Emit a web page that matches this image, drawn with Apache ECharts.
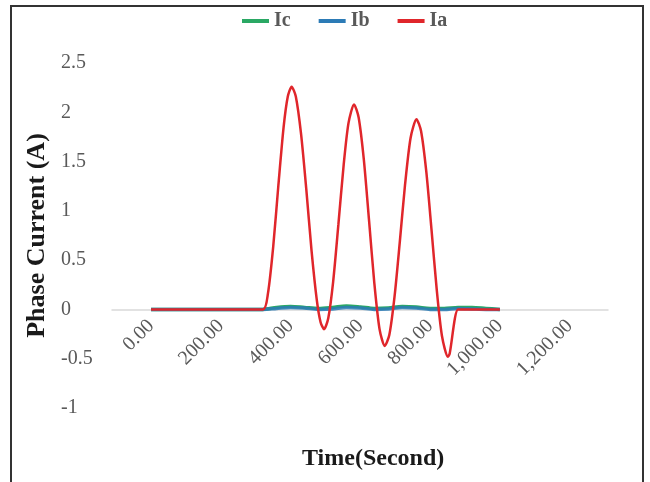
<!DOCTYPE html>
<html>
<head>
<meta charset="utf-8">
<script src="https://cdn.jsdelivr.net/npm/echarts@6/dist/echarts.min.js"></script>
<style>
html,body{margin:0;padding:0;background:#fff;}
#chart{width:650px;height:482px;}
</style>
</head>
<body>
<div id="chart"></div>
<script>
// Data
const xTickLabels = [0, 200, 400, 600, 800, 1000, 1200];
const yTicks = [-1, -0.5, 0, 0.5, 1, 1.5, 2, 2.5];

const iaTime = [0, 100, 200, 321, 335, 350, 365, 380, 392, 403, 415, 430, 445, 460, 475, 486, 496,
  508, 522, 537, 552, 566, 582, 595, 610, 625, 640, 655, 670, 683, 698, 713, 728, 744, 761,
  774, 789, 804, 819, 834, 851, 856, 880, 900, 950, 1000];
const iaVals = [0, 0, 0, 0, 0.16, 0.63, 1.26, 1.85, 2.16, 2.26, 2.16, 1.78, 1.22, 0.60, 0.10, -0.13, -0.20,
  -0.09, 0.28, 0.86, 1.46, 1.89, 2.08, 1.95, 1.52, 0.90, 0.27, -0.20, -0.37, -0.26, 0.13, 0.68, 1.26, 1.74, 1.93,
  1.81, 1.40, 0.81, 0.20, -0.27, -0.48, -0.45, 0, 0, 0, 0];

const ibTime = [0, 100, 200, 320, 360, 400, 440, 480, 520, 560, 600, 640, 680, 720, 760, 800, 840, 880, 920, 960, 1000];
const ibVals = [0, 0, 0, 0, 0.01, 0.02, 0.015, 0.0, 0.005, 0.02, 0.015, 0.0, 0.005, 0.02, 0.015, 0.0, 0.0, 0.01, 0.005, 0.0, 0.0];
const icVals = [0, 0, 0, 0, 0.02, 0.03, 0.02, 0.01, 0.02, 0.035, 0.025, 0.01, 0.015, 0.03, 0.025, 0.01, 0.01, 0.02, 0.02, 0.01, 0.0];

const zip = (t, v) => t.map((x, i) => [x, v[i]]);

const serif = "'Liberation Serif', 'DejaVu Serif', serif";
const chart = echarts.init(document.getElementById('chart'));
chart.setOption({
  animation: false,
  backgroundColor: '#ffffff',
  legend: {
    top: 6,
    left: 237,
    itemGap: 28,
    itemWidth: 27,
    itemHeight: 4,
    icon: 'rect',
    textStyle: { fontFamily: serif, fontSize: 20, fontWeight: 'bold', color: '#595959' },
    data: ['Ic', 'Ib', 'Ia']
  },
  grid: { left: 112, right: 42, top: 63, bottom: 74 },
  xAxis: {
    type: 'value',
    min: -112,
    max: 1310,
    offset: -98,
    axisLine: { onZero: false, lineStyle: { color: '#d9d9d9', width: 1.5 } },
    axisTick: { show: false },
    splitLine: { show: false },
    axisLabel: {
      customValues: xTickLabels,
      rotate: 45,
      margin: 13,
      fontFamily: serif,
      fontSize: 20,
      color: '#595959',
      formatter: v => Number(v).toLocaleString('en-US', { minimumFractionDigits: 2, maximumFractionDigits: 2 })
    }
  },
  yAxis: {
    type: 'value',
    min: yTicks[0],
    max: yTicks[yTicks.length - 1],
    interval: 0.5,
    axisLine: { show: false },
    axisTick: { show: false },
    splitLine: { show: false },
    name: 'Phase Current (A)',
    nameLocation: 'middle',
    nameRotate: 90,
    nameGap: 61,
    nameTextStyle: { fontFamily: serif, fontSize: 26, fontWeight: 'bold', color: '#1a1a1a' },
    axisLabel: {
      align: 'left',
      margin: 51,
      fontFamily: serif,
      fontSize: 20,
      color: '#595959'
    }
  },
  graphic: [
    {
      type: 'text',
      left: 302,
      top: 447,
      style: { text: 'Time(Second)', fontFamily: serif, fontSize: 24, fontWeight: 'bold', fill: '#1a1a1a' }
    },
    {
      type: 'rect',
      shape: { x: 11, y: 6, width: 632, height: 500 },
      style: { fill: 'none', stroke: '#333333', lineWidth: 2 },
      silent: true
    }
  ],
  series: [
    {
      name: 'Ic', type: 'line', data: zip(ibTime, icVals), showSymbol: false, smooth: 0.3,
      lineStyle: { color: '#2aa864', width: 3.5 }, itemStyle: { color: '#2aa864' }
    },
    {
      name: 'Ib', type: 'line', data: zip(ibTime, ibVals), showSymbol: false, smooth: 0.3,
      lineStyle: { color: '#2c7bb6', width: 3.5, opacity: 0.85 }, itemStyle: { color: '#2c7bb6' }
    },
    {
      name: 'Ia', type: 'line', data: zip(iaTime, iaVals), showSymbol: false, smooth: 0.25,
      lineStyle: { color: '#e0262b', width: 2.5 }, itemStyle: { color: '#e0262b' }
    }
  ]
});
</script>
</body>
</html>
